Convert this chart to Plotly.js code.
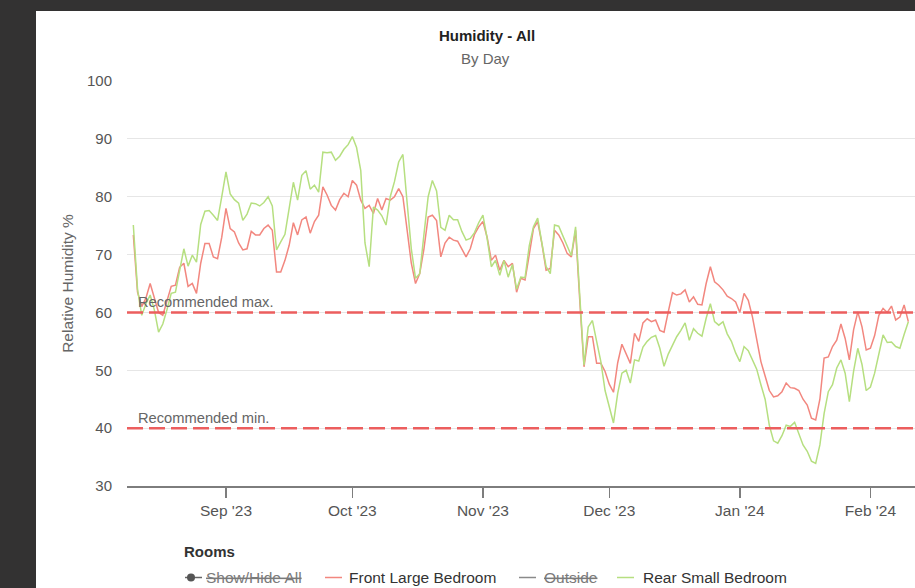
<!DOCTYPE html>
<html>
<head>
<meta charset="utf-8">
<script src="https://cdn.plot.ly/plotly-3.0.1.min.js"></script>
<style>
  html, body { margin: 0; padding: 0; width: 915px; height: 588px; overflow: hidden; background: #333232; }
  #card { position: absolute; left: 36px; top: 11px; width: 879px; height: 577px; background: #ffffff; overflow: hidden; }
  #chart { width: 879px; height: 577px; }
</style>
</head>
<body>
<div id="card"><div id="chart"></div></div>
<script>
// Daily relative humidity (%), one reading per day starting 10 Aug 2023
const startDate = '2023-08-10';

const frontLargeBedroom = [
  73.4, 63.5, 61, 62.5, 65, 62.5, 60, 59.5, 62, 64.5,
  64.7, 67.8, 68.5, 64.5, 65, 63.3, 68.5, 71.9, 71.9, 69.6,
  69.3, 73, 78, 74.5, 73.9, 72, 70.8, 71, 74, 73.4,
  73.4, 74.5, 75.1, 74.2, 67, 67, 69, 71.6, 75.5, 73.4,
  76, 76.5, 73.7, 75.7, 76.8, 81.7, 80.3, 78.5, 77.7, 79.5,
  80.6, 80, 82.8, 82, 79.4, 78, 78.5, 77.1, 79.7, 77.7,
  79.7, 79.4, 80, 81.4, 80, 74, 68.5, 65, 66.7, 71,
  76.5, 76.8, 75.9, 69.6, 72, 73, 72.5, 72.3, 71, 69.6,
  71, 73.5, 74.8, 75.7, 73, 69, 69.9, 67.3, 69, 67.9,
  68.5, 63.5, 65.9, 65.6, 70, 74.5, 75.7, 71.9, 67.3, 67.6,
  74.2, 73.4, 72, 70.2, 69.6, 74.2, 62, 50.6, 55.8, 55.8,
  51.2, 51.2, 49.8, 47.6, 46.2, 51.3, 54.5, 52.9, 51.2, 56.4,
  55, 58.2, 58.9, 58.4, 58.7, 56.9, 56.6, 60.1, 63.4, 63,
  63.2, 63.9, 61.8, 62.7, 61.4, 61.3, 65, 67.9, 65.3, 64.7,
  63.9, 62.8, 62.4, 61.8, 60, 63.3, 62.1, 59.2, 55.5, 51.5,
  49, 46.5, 45.4, 45.6, 46.3, 47.8, 47, 46.9, 46.5, 45,
  44, 41.7, 41.4, 45, 52.1, 52.3, 54.1, 55.2, 58, 55.5,
  51.8, 57, 60.1, 57.5, 53.5, 53.8, 56, 59.5, 60.7, 60,
  61.1, 58.7, 59.2, 61.3, 58.4
];

const rearSmallBedroom = [
  75.1, 64, 59.5, 61.5, 63, 60.4, 56.6, 58, 60.5, 63.3,
  63.5, 67.5, 71, 68, 69.9, 68.7, 75.2, 77.5, 77.6, 76.8,
  75.9, 80, 84.3, 80.5, 79.5, 78.9, 75.9, 77, 78.9, 78.8,
  78.4, 79, 80, 78.4, 70.8, 72.2, 73.5, 78, 82.5, 79.4,
  83.7, 84.5, 81.3, 82, 80.8, 87.7, 87.6, 87.7, 86.3, 87,
  88.2, 89, 90.4, 88.5, 84.5, 72, 67.9, 78.2, 77.7, 76.7,
  75.1, 80, 82.6, 86, 87.3, 79, 71, 65.9, 66.7, 73.5,
  80, 82.8, 81, 74.7, 74.2, 76.8, 76, 76, 74, 72.5,
  72.8, 73.8, 75.5, 76.8, 72.8, 67.9, 69, 66.4, 69, 66.1,
  68.3, 64, 66.1, 66, 71.5, 74.8, 76.3, 72, 67.9, 66.7,
  75.1, 74.9, 73.2, 71.2, 69.8, 74.8, 62, 50.9, 57.5, 58.6,
  55, 51.5, 46.5, 43.5, 40.9, 46, 49.5, 50, 47.8, 51.8,
  51.6, 54, 55, 55.7, 56, 53.8, 50.7, 52.8, 54.3, 55.8,
  56.9, 58.2, 55.2, 57.2, 56.4, 55.9, 59, 61.5, 58.4, 57.8,
  58.4, 56.3, 55, 53, 51.5, 54.1, 53.4, 51.7, 50.2, 47.5,
  45, 40.5, 37.8, 37.4, 38.7, 40.5, 40.3, 41, 39, 37.1,
  36, 34.3, 33.9, 37.1, 42.5, 46.3, 47.5, 50.4, 51.8, 49.5,
  44.6, 49.8, 53.8, 51, 46.5, 47.1, 49.5, 53, 56.1, 54.8,
  54.9, 54.1, 53.8, 56.2, 58.4
];

// Month ticks on the time axis
const monthTicks = ['2023-09-01', '2023-10-01', '2023-11-01', '2023-12-01', '2024-01-01', '2024-02-01'];
const monthLabels = ["Sep '23", "Oct '23", "Nov '23", "Dec '23", "Jan '24", "Feb '24"];

// Recommended humidity band
const recommendedMax = 60;
const recommendedMin = 40;

// Legend entries (name, hidden flag)
const legendNames = ['Show/Hide All', 'Front Large Bedroom', 'Outside', 'Rear Small Bedroom'];
const legendHidden = [true, false, true, false];

const FONT = '"Liberation Sans", Arial, Helvetica, sans-serif';
const RED = '#f2877f';
const GREEN = '#b6df80';
const GREY_SERIES = '#8a8a8a';
const DASH_RED = '#ec5e5e';

function dayDates(start, n) {
  const out = [];
  const t0 = Date.parse(start + 'T00:00:00Z');
  for (let i = 0; i < n; i++) {
    out.push(new Date(t0 + i * 86400000).toISOString().slice(0, 10));
  }
  return out;
}
const dates = dayDates(startDate, frontLargeBedroom.length);

// plot frame in page pixels, used to place text outside the axes
const FRAME = { left: 127, right: 915, top: 81, bottom: 486 };
const px = x => (x - FRAME.left) / (FRAME.right - FRAME.left);
const py = y => (FRAME.bottom - y) / (FRAME.bottom - FRAME.top);

const traces = [
  { x: dates, y: frontLargeBedroom, type: 'scatter', mode: 'lines', name: legendNames[1],
    line: { color: RED, width: 1.5 } },
  { x: dates, y: rearSmallBedroom, type: 'scatter', mode: 'lines', name: legendNames[3],
    line: { color: GREEN, width: 1.5 } }
];

const shapes = [recommendedMax, recommendedMin].map(v => ({
  type: 'line', xref: 'paper', x0: 0, x1: 1, yref: 'y', y0: v, y1: v,
  line: { color: DASH_RED, width: 2.5, dash: '16px,6px' }, layer: 'above'
}));

const annotations = [
  { text: 'By Day', xref: 'paper', yref: 'paper', x: px(485.5), y: py(58),
    xanchor: 'center', yanchor: 'middle', showarrow: false,
    font: { family: FONT, size: 15, color: '#666666' } },
  { text: 'Recommended max.', xref: 'paper', yref: 'y', x: px(136), y: recommendedMax,
    xanchor: 'left', yanchor: 'bottom', showarrow: false,
    font: { family: FONT, size: 14.7, color: '#666666' } },
  { text: 'Recommended min.', xref: 'paper', yref: 'y', x: px(136), y: recommendedMin,
    xanchor: 'left', yanchor: 'bottom', showarrow: false,
    font: { family: FONT, size: 14.7, color: '#666666' } },
  { text: '<b>Rooms</b>', xref: 'paper', yref: 'paper', x: px(182), y: py(551),
    xanchor: 'left', yanchor: 'middle', showarrow: false,
    font: { family: FONT, size: 15, color: '#333333' } }
];

// hand-placed legend row
const LEG_Y = 577.5;
const legendSymbolX = [185, 325, 519, 617];
const legendTextX = [204, 347, 541.5, 641];
const legendColors = ['#666666', RED, GREY_SERIES, GREEN];
legendNames.forEach((name, i) => {
  shapes.push({ type: 'line', xref: 'paper', yref: 'paper',
    x0: px(legendSymbolX[i]), x1: px(legendSymbolX[i] + 17), y0: py(LEG_Y), y1: py(LEG_Y),
    line: { color: legendColors[i], width: 1.5 } });
  annotations.push({ text: legendHidden[i] ? '<s>' + name + '</s>' : name,
    xref: 'paper', yref: 'paper', x: px(legendTextX[i]), y: py(LEG_Y),
    xanchor: 'left', yanchor: 'middle', showarrow: false,
    font: { family: FONT, size: 15.5, color: legendHidden[i] ? '#7a7a7a' : '#333333' } });
});
// marker dot of the "Show/Hide All" entry
shapes.push({ type: 'circle', xref: 'paper', yref: 'paper',
  x0: px(187), x1: px(195), y0: py(LEG_Y + 4), y1: py(LEG_Y - 4),
  fillcolor: '#555555', line: { color: '#555555', width: 0 } });

const layout = {
  width: 879, height: 577,
  margin: { l: 91, r: 0, t: 70, b: 102, pad: 0 },
  paper_bgcolor: '#ffffff', plot_bgcolor: '#ffffff',
  font: { family: FONT, color: '#555555' },
  showlegend: false,
  hovermode: false,
  title: { text: 'Humidity - All', xref: 'container', yref: 'container',
    x: (487 - 36) / 879, y: 1 - (36 - 11) / 577, xanchor: 'center', yanchor: 'middle',
    font: { family: FONT, size: 15, color: '#222222', weight: 'bold' } },
  xaxis: {
    type: 'date',
    range: ['2023-08-08 12:00', '2024-02-11 14:00'],
    tickmode: 'array', tickvals: monthTicks, ticktext: monthLabels,
    showgrid: false, zeroline: false,
    showline: true, linecolor: '#7d7d7d', linewidth: 1.5,
    ticks: 'outside', ticklen: 10, tickwidth: 1.5, tickcolor: '#7d7d7d',
    tickfont: { family: FONT, size: 15.5, color: '#555555' },
    fixedrange: true
  },
  yaxis: {
    range: [30, 100],
    tickmode: 'linear', tick0: 30, dtick: 10,
    showgrid: true, gridcolor: '#e6e6e6', gridwidth: 1,
    zeroline: false, showline: false, ticks: '',
    ticklabelstandoff: 14,
    tickfont: { family: FONT, size: 15, color: '#555555' },
    title: { text: 'Relative Humidity %', standoff: 9,
      font: { family: FONT, size: 15.5, color: '#666666' } },
    fixedrange: true
  },
  shapes: shapes,
  annotations: annotations
};

Plotly.newPlot('chart', traces, layout, { staticPlot: true, displayModeBar: false });
</script>
</body>
</html>
